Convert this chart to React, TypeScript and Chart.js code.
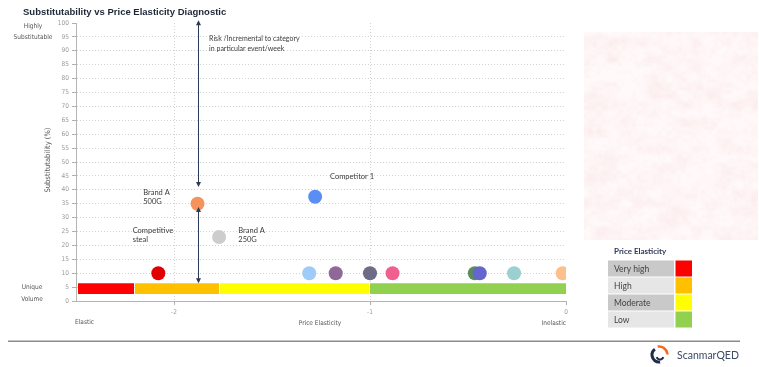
import React, { useEffect, useRef } from "react";
import { Chart, registerables } from "chart.js";

Chart.register(...registerables);

// Each product: price elasticity (x) vs substitutability % (y)
const elasticity = [-2.08, -1.88, -1.77, -1.28, -1.31, -1.175, -1.0, -0.885, -0.465, -0.44, -0.265, -0.017];
const substitutability = [10, 35, 23, 37.5, 10, 10, 10, 10, 10, 10, 10, 10];
const productColors = [
  "#e00000", "#f7925c", "#cdcdcd", "#5b8ef3", "#9ecbf7", "#8f6897",
  "#6e6b87", "#f0608f", "#5d8b5d", "#6565cf", "#9bcfd0", "#fbc08e",
];

// Elasticity classes shown as the band along the bottom and in the key
const bandLabels = ["Very high", "High", "Moderate", "Low"];
const bandColors = ["#ff0000", "#ffc000", "#ffff00", "#92d050"];
const bandEdges = [-2.49, -2.2, -1.765, -1.0, 0];
const bandLow = 2.5;
const bandHigh = 6.4;

const xTicks = [-2, -1, 0];
const xMin = -2.5;
const xMax = 0;
const yMin = 0;
const yMax = 100;
const yStep = 5;

// Double-headed arrows on the Brand A 500G column
const arrowX = -1.88;
const arrowSpans = [
  [101, 41],
  [33.8, 6.4],
];

// Callout text anchored in data units (left edge, first line centre)
const callouts = [
  { lines: ["Risk /Incremental to category", "in particular event/week"], x: -1.821, y: 94.2 },
  { lines: ["Brand A", "500G"], x: -2.157, y: 39.1 },
  { lines: ["Competitive", "steal"], x: -2.211, y: 25.5 },
  { lines: ["Brand A", "250G"], x: -1.672, y: 25.5 },
  { lines: ["Competitor 1"], x: -1.204, y: 44.6 },
];

const TICK_FONT = "'Liberation Sans Narrow', 'DejaVu Sans Condensed', sans-serif";
const AXIS_FONT = "'DejaVu Sans Condensed', 'DejaVu Sans', sans-serif";
const NOTE_FONT = "Lato, 'Open Sans', sans-serif";

// Small deterministic value noise for the paper-like panel
function hash(ix: number, iy: number) {
  let h = (ix * 374761393 + iy * 668265263) | 0;
  h = Math.imul(h ^ (h >>> 13), 1274126177);
  h = h ^ (h >>> 16);
  return (h >>> 0) / 4294967295;
}
function smoothNoise(x: number, y: number) {
  const ix = Math.floor(x);
  const iy = Math.floor(y);
  const fx = x - ix;
  const fy = y - iy;
  const sx = fx * fx * (3 - 2 * fx);
  const sy = fy * fy * (3 - 2 * fy);
  const a = hash(ix, iy);
  const b = hash(ix + 1, iy);
  const c = hash(ix, iy + 1);
  const d = hash(ix + 1, iy + 1);
  return a + (b - a) * sx + (c - a) * sy + (a - b - c + d) * sx * sy;
}

function paintTexture(ctx: CanvasRenderingContext2D, x0: number, y0: number, w: number, h: number) {
  const img = ctx.createImageData(w, h);
  for (let y = 0; y < h; y++) {
    for (let x = 0; x < w; x++) {
      const n =
        smoothNoise(x / 14, y / 9) * 0.5 +
        smoothNoise(x / 5, y / 4) * 0.3 +
        smoothNoise(x / 2, y / 2) * 0.2;
      const k = (x + y * w) * 4;
      const t = Math.min(1, Math.max(0, (n - 0.3) * 1.6));
      img.data[k] = 255 - Math.round(t * 3);
      img.data[k + 1] = 249 - Math.round(t * 13);
      img.data[k + 2] = 249 - Math.round(t * 13);
      img.data[k + 3] = 255;
    }
  }
  ctx.putImageData(img, x0, y0);
}

function drawArrowHead(ctx: CanvasRenderingContext2D, x: number, y: number, dir: number) {
  ctx.beginPath();
  ctx.moveTo(x, y);
  ctx.lineTo(x - 2.5, y - dir * 5);
  ctx.lineTo(x + 2.5, y - dir * 5);
  ctx.closePath();
  ctx.fill();
}

const decorations = {
  id: "decorations",
  beforeDraw(chart: Chart) {
    const ctx = chart.ctx;
    ctx.save();
    ctx.fillStyle = "#ffffff";
    ctx.fillRect(0, 0, chart.width, chart.height);
    ctx.restore();
    paintTexture(ctx, 584, 32, 174, 208);
  },
  afterDraw(chart: Chart) {
    const ctx = chart.ctx;
    const xs = chart.scales.x;
    const ys = chart.scales.y;
    const area = chart.chartArea;
    ctx.save();

    // Title
    ctx.fillStyle = "#1d2636";
    ctx.font = "bold 9.5px 'Liberation Sans', Arial, sans-serif";
    ctx.textBaseline = "middle";
    ctx.textAlign = "left";
    ctx.fillText("Substitutability vs Price Elasticity Diagnostic", 23, 12);

    // End labels of the y axis
    ctx.fillStyle = "#555";
    ctx.font = `6.5px ${AXIS_FONT}`;
    ctx.textAlign = "center";
    ctx.fillText("Highly", 33, 26);
    ctx.fillText("Substitutable", 33, 37);
    ctx.fillText("Unique", 32, 287.5);
    ctx.fillText("Volume", 32, 299);

    // y axis title
    ctx.save();
    ctx.translate(48, 160);
    ctx.rotate(-Math.PI / 2);
    ctx.font = `7.5px ${AXIS_FONT}`;
    ctx.fillStyle = "#555";
    ctx.fillText("Substitutability (%)", 0, 0);
    ctx.restore();

    // x axis labels
    ctx.font = `6.5px ${AXIS_FONT}`;
    ctx.fillStyle = "#555";
    ctx.textAlign = "left";
    ctx.fillText("Elastic", 75, 322.5);
    ctx.textAlign = "center";
    ctx.fillText("Price Elasticity", (area.left + area.right) / 2 - 1, 323);
    ctx.textAlign = "right";
    ctx.fillText("Inelastic", 566, 323);

    // Arrows
    ctx.strokeStyle = "#2b3a57";
    ctx.fillStyle = "#2b3a57";
    ctx.lineWidth = 1;
    const ax = Math.round(xs.getPixelForValue(arrowX)) + 0.5;
    for (const [a, b] of arrowSpans) {
      const ya = ys.getPixelForValue(a);
      const yb = ys.getPixelForValue(b);
      ctx.beginPath();
      ctx.moveTo(ax, ya + 3);
      ctx.lineTo(ax, yb - 3);
      ctx.stroke();
      drawArrowHead(ctx, ax, ya, -1);
      drawArrowHead(ctx, ax, yb, 1);
    }

    // Callouts
    ctx.fillStyle = "#3a3a3a";
    ctx.textAlign = "left";
    for (const c of callouts) {
      const px = xs.getPixelForValue(c.x);
      const py = ys.getPixelForValue(c.y);
      const small = c.lines[0].length > 20;
      ctx.font = `${small ? 7 : 7.5}px ${NOTE_FONT}`;
      c.lines.forEach((line, i) => {
        ctx.fillText(line, px, py + i * (small ? 10 : 9.5));
      });
    }

    // Key for elasticity classes
    ctx.font = `bold 8px ${NOTE_FONT}`;
    ctx.fillStyle = "#2e3a59";
    ctx.textAlign = "left";
    ctx.fillText("Price Elasticity", 614, 251);
    const rowTop = 260.5;
    const rowH = 17;
    bandLabels.forEach((label, i) => {
      const y = rowTop + i * rowH;
      ctx.fillStyle = i % 2 === 0 ? "#c9c9c9" : "#e6e6e6";
      ctx.fillRect(608, y, 66, rowH - 1);
      ctx.fillStyle = bandColors[i];
      ctx.fillRect(675.5, y, 16.5, rowH - 1);
      ctx.fillStyle = "#444";
      ctx.font = `8.5px ${NOTE_FONT}`;
      ctx.fillText(label, 614, y + rowH / 2);
    });

    // Footer rule
    ctx.fillStyle = "#8c8c8c";
    ctx.fillRect(8, 340.5, 732, 1.5);

    // Logo
    const cx = 659;
    const cy = 355;
    ctx.lineCap = "butt";
    ctx.strokeStyle = "#1f2d48";
    ctx.lineWidth = 3;
    ctx.beginPath();
    ctx.arc(cx, cy, 7, Math.PI * 0.45, Math.PI * 1.3);
    ctx.stroke();
    ctx.lineWidth = 2;
    ctx.beginPath();
    ctx.arc(cx + 1, cy + 1, 3.5, Math.PI * 0.1, Math.PI * 0.9);
    ctx.stroke();
    ctx.strokeStyle = "#f26b21";
    ctx.lineWidth = 2.5;
    ctx.beginPath();
    ctx.arc(cx, cy, 8.5, Math.PI * 1.45, Math.PI * 1.98);
    ctx.stroke();
    ctx.fillStyle = "#3c4b63";
    ctx.font = `10.5px ${NOTE_FONT}`;
    ctx.textAlign = "left";
    ctx.fillText("ScanmarQED", 677, 355.5);

    ctx.restore();
  },
};

export default function App() {
  const ref = useRef<HTMLCanvasElement | null>(null);

  useEffect(() => {
    document.body.style.margin = "0";
    const canvas = ref.current;
    if (!canvas) return;

    const bandSets = bandColors.map((color, i) => ({
      type: "line" as const,
      label: bandLabels[i],
      data: [
        { x: bandEdges[i], y: bandHigh },
        { x: bandEdges[i + 1] - (i < bandColors.length - 1 ? 0.004 : 0), y: bandHigh },
      ],
      backgroundColor: color,
      borderColor: color,
      borderWidth: 0,
      pointRadius: 0,
      fill: { value: bandLow },
      order: 2,
    }));

    const chart = new Chart(canvas, {
      type: "scatter",
      data: {
        datasets: [
          {
            type: "scatter",
            label: "Products",
            data: elasticity.map((x, i) => ({ x, y: substitutability[i] })),
            pointRadius: 7,
            pointHoverRadius: 7,
            pointBackgroundColor: productColors,
            pointBorderWidth: 0,
            borderWidth: 0,
            clip: 0,
            order: 1,
          },
          ...bandSets,
        ] as any,
      },
      options: {
        responsive: false,
        animation: false,
        devicePixelRatio: 1,
        events: [],
        layout: { padding: { left: 0, top: 23, right: 193, bottom: 46 } },
        plugins: {
          legend: { display: false },
          tooltip: { enabled: false },
          title: { display: false },
        },
        scales: {
          x: {
            type: "linear",
            min: xMin,
            max: xMax,
            afterBuildTicks: (s: any) => {
              s.ticks = xTicks.map((v) => ({ value: v }));
            },
            afterFit: (s: any) => {
              s.height = 20;
            },
            grid: {
              color: (c: any) => (c.tick && c.tick.value === 0 ? "rgba(0,0,0,0)" : "#d2d2d2"),
              tickColor: "#b0b0b0",
              tickLength: 4,
              tickBorderDash: [],
            },
            border: { color: "#b5b5b5", dash: [1, 2] },
            ticks: {
              color: "#9a9a9a",
              padding: 3,
              maxRotation: 0,
              font: { family: TICK_FONT, size: 6.5 },
            },
          },
          y: {
            type: "linear",
            min: yMin,
            max: yMax,
            afterFit: (s: any) => {
              s.width = 76;
            },
            grid: {
              color: (c: any) =>
                c.tick && (c.tick.value === yMax || c.tick.value === yMin) ? "rgba(0,0,0,0)" : "#d2d2d2",
              tickColor: "#b0b0b0",
              tickLength: 4,
              tickBorderDash: [],
            },
            border: { color: "#b5b5b5", dash: [1, 2] },
            ticks: {
              stepSize: yStep,
              color: "#9a9a9a",
              padding: 3,
              autoSkip: false,
              font: { family: TICK_FONT, size: 6.5 },
            },
          },
        },
      },
      plugins: [decorations],
    });

    return () => chart.destroy();
  }, []);

  return (
    <div style={{ position: "absolute", left: 0, top: 0, width: 759, height: 367 }}>
      <canvas ref={ref} width={759} height={367} style={{ display: "block", width: 759, height: 367 }} />
    </div>
  );
}
